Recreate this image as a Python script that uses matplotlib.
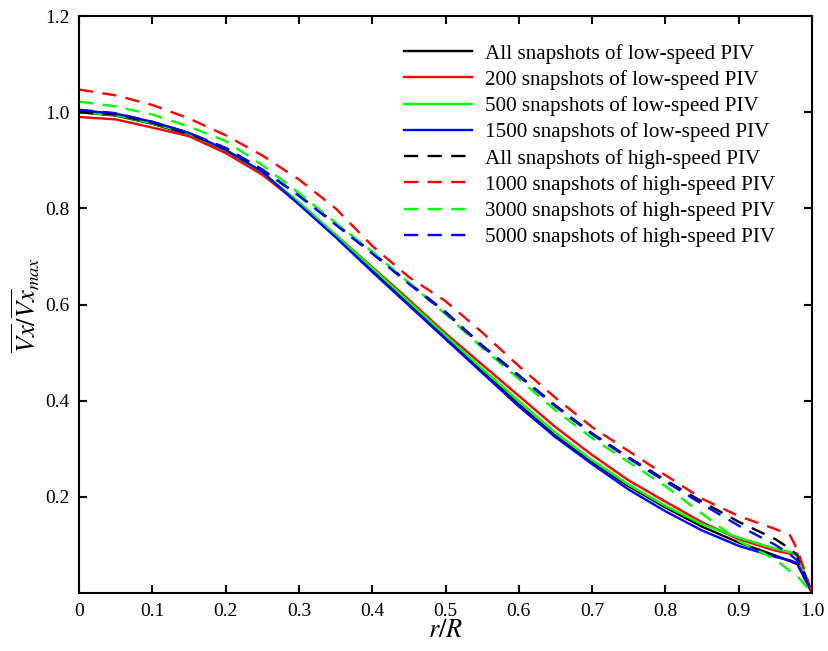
import matplotlib
matplotlib.use("Agg")
import matplotlib.pyplot as plt
import numpy as np

plt.rcParams['font.family'] = ['Liberation Serif', 'DejaVu Serif']
plt.rcParams['mathtext.fontset'] = 'stix'

# radial positions r/R shared by all profiles
r = [0, 0.05, 0.1, 0.15, 0.2, 0.25, 0.3, 0.35, 0.4, 0.45, 0.5, 0.55, 0.6,
     0.65, 0.7, 0.75, 0.8, 0.85, 0.9, 0.95, 0.97, 0.98, 1.0]

# low-speed PIV
low_all = [1.000, 0.993, 0.976, 0.953, 0.920, 0.873, 0.810, 0.742, 0.672, 0.602, 0.532,
           0.462, 0.392, 0.327, 0.272, 0.222, 0.178, 0.138, 0.105, 0.078, 0.066, 0.060, 0.0]
low_200 = [0.990, 0.985, 0.968, 0.950, 0.915, 0.870, 0.810, 0.745, 0.678, 0.610, 0.540,
           0.475, 0.410, 0.345, 0.287, 0.234, 0.190, 0.147, 0.112, 0.088, 0.082, 0.082, 0.0]
low_500 = [1.000, 0.994, 0.977, 0.955, 0.921, 0.875, 0.813, 0.745, 0.676, 0.606, 0.536,
           0.466, 0.399, 0.333, 0.276, 0.225, 0.181, 0.143, 0.115, 0.092, 0.085, 0.080, 0.0]
low_1500 = [1.004, 0.997, 0.980, 0.957, 0.922, 0.876, 0.808, 0.740, 0.668, 0.598, 0.528,
            0.458, 0.388, 0.324, 0.268, 0.215, 0.170, 0.130, 0.098, 0.075, 0.068, 0.062, 0.0]

# high-speed PIV
high_all = [1.000, 0.995, 0.978, 0.955, 0.925, 0.880, 0.827, 0.768, 0.708, 0.645, 0.585,
            0.515, 0.453, 0.390, 0.332, 0.282, 0.235, 0.190, 0.148, 0.112, 0.092, 0.078, 0.0]
high_1000 = [1.047, 1.035, 1.015, 0.987, 0.952, 0.910, 0.860, 0.800, 0.722, 0.657, 0.607,
             0.542, 0.472, 0.406, 0.345, 0.295, 0.245, 0.196, 0.160, 0.133, 0.120, 0.090, 0.0]
high_3000 = [1.022, 1.012, 0.995, 0.970, 0.940, 0.890, 0.832, 0.770, 0.710, 0.645, 0.580,
             0.510, 0.445, 0.380, 0.322, 0.272, 0.222, 0.165, 0.108, 0.070, 0.045, 0.035, 0.0]
high_5000 = [1.005, 0.998, 0.980, 0.957, 0.926, 0.881, 0.826, 0.766, 0.706, 0.643, 0.583,
             0.513, 0.451, 0.388, 0.330, 0.280, 0.232, 0.185, 0.140, 0.100, 0.080, 0.068, 0.0]

labels = ["All snapshots of low-speed PIV", "200 snapshots of low-speed PIV",
          "500 snapshots of low-speed PIV", "1500 snapshots of low-speed PIV",
          "All snapshots of high-speed PIV", "1000 snapshots of high-speed PIV",
          "3000 snapshots of high-speed PIV", "5000 snapshots of high-speed PIV"]
series = [low_all, low_200, low_500, low_1500, high_all, high_1000, high_3000, high_5000]
colors = ['#000000', '#ff0000', '#00ff00', '#0000ff'] * 2

fig = plt.figure(figsize=(8.29, 6.51), dpi=100)
ax = fig.add_axes([0.0953, 0.0891, 0.8842, 0.8863])

for i, (ys, lab) in enumerate(zip(series, labels)):
    ls = '-' if i < 4 else (0, (6, 4))
    ax.plot(r, ys, color=colors[i], lw=1.7, ls=ls, label=lab)

ax.set_xlim(0, 1.0)
ax.set_ylim(0, 1.2)
ax.set_xticks(np.arange(0, 1.01, 0.1))
ax.set_xticklabels(['0'] + [f"{v:.1f}" for v in np.arange(0.1, 1.01, 0.1)])
ax.set_yticks(np.arange(0.2, 1.21, 0.2))
ax.set_yticklabels([f"{v:.1f}" for v in np.arange(0.2, 1.21, 0.2)])
ax.tick_params(direction='in', length=6, width=1.5, labelsize=14,
               top=True, right=True, pad=7)
for s in ax.spines.values():
    s.set_linewidth(1.5)

ax.set_xlabel(r'$r/R$', fontsize=19, labelpad=0)
ax.set_ylabel(r'$\overline{Vx}/\overline{Vx}_{max}$', fontsize=19, labelpad=2)

ax.legend(loc='upper right', bbox_to_anchor=(0.975, 0.985), frameon=False,
          fontsize=15.2, handlelength=3.2, handletextpad=0.6, labelspacing=0.30)

fig.savefig("out.png", dpi=100)
